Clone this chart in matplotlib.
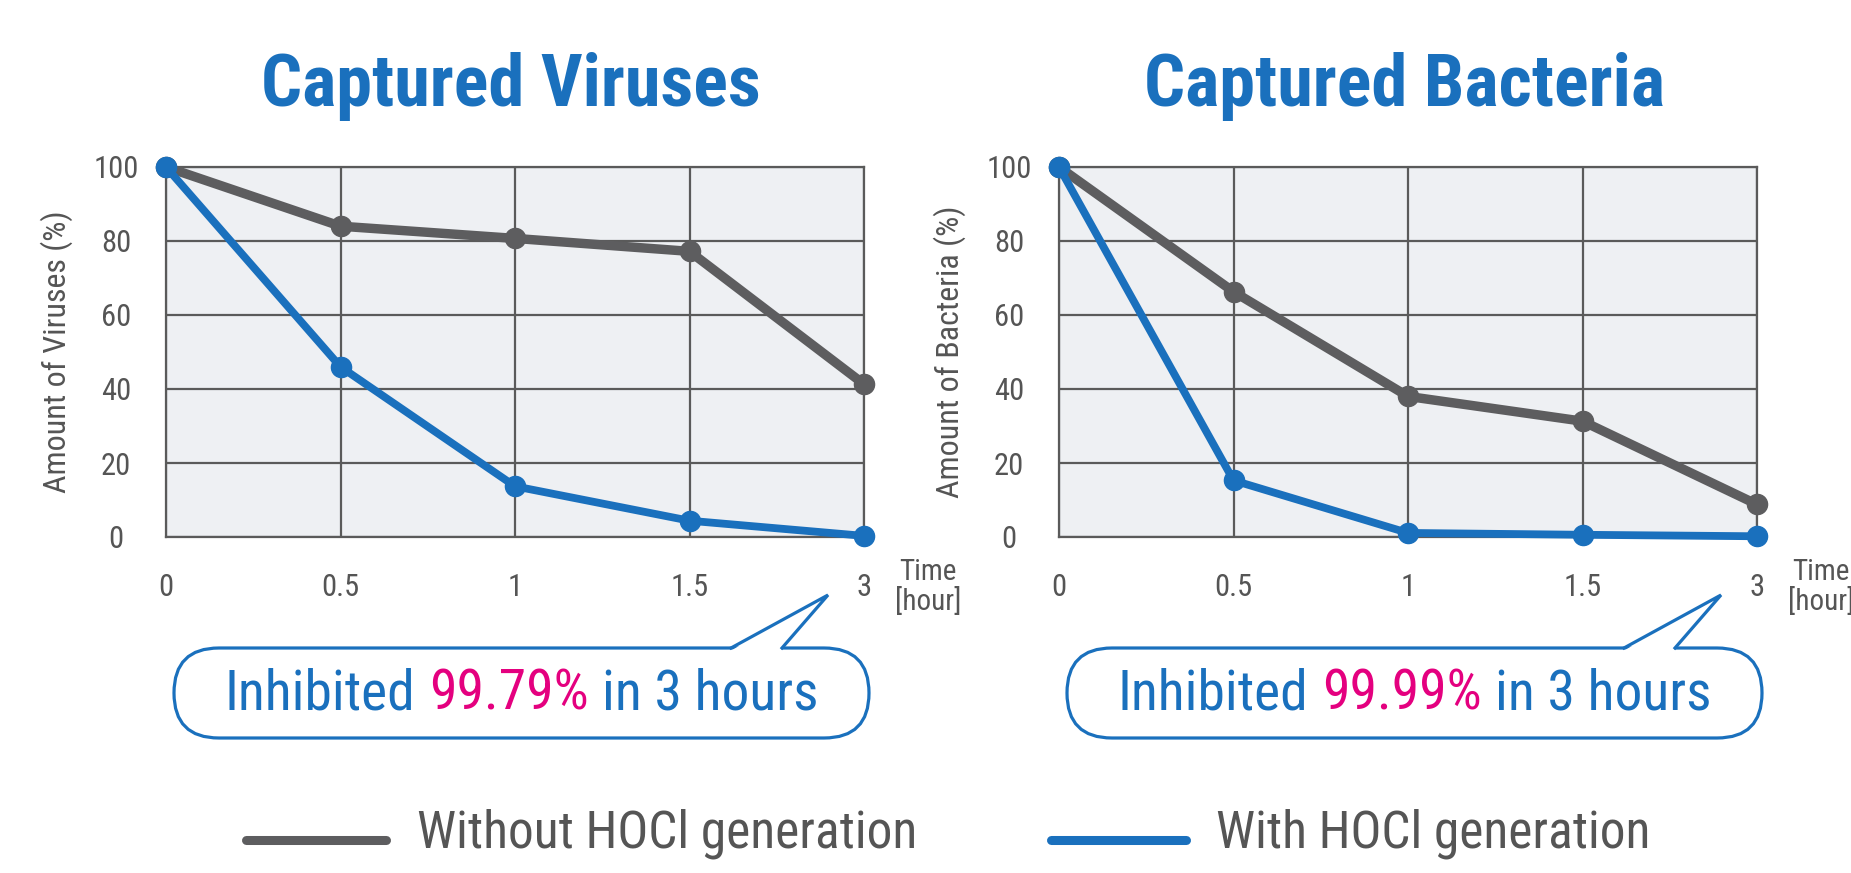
import numpy as np
import matplotlib.pyplot as plt
from matplotlib import font_manager
from matplotlib.patches import FancyBboxPatch, Polygon

# data
times = ['0', '0.5', '1', '1.5', '3']
virus_without = [100, 84, 80.7, 77.2, 41.3]
virus_with = [100, 46, 13.7, 4.4, 0.3]
bacteria_without = [100, 66.3, 38, 31.3, 8.8]
bacteria_with = [100, 15.3, 1.1, 0.6, 0.2]
titles = ['Captured Viruses', 'Captured Bacteria']
ylabels = ['Amount of Viruses (%)', 'Amount of Bacteria (%)']
inhibited = ['99.79%', '99.99%']
legend_labels = ['Without HOCl generation', 'With HOCl generation']

BLUE = '#1a70bd'
PINK = '#e4007f'
GRAY = '#5d5d5f'
GRID = '#5a5a5a'
TXT = '#555555'

names = {f.name for f in font_manager.fontManager.ttflist}
NARROW = next((n for n in ['Liberation Sans Narrow', 'Roboto Condensed',
                           'Open Sans Condensed', 'DejaVu Sans Condensed']
               if n in names), 'Liberation Sans')
plt.rcParams['font.family'] = [NARROW, 'DejaVu Sans']

W, H = 1851, 873
fig = plt.figure(figsize=(W / 100, H / 100), dpi=100)


def px_axes(x, y, w, h):
    return fig.add_axes([x / W, 1 - (y + h) / H, w / W, h / H])


# overlay in pixel coords for titles, bubbles and legend
ov = fig.add_axes([0, 0, 1, 1], zorder=10)
ov.set_xlim(0, W)
ov.set_ylim(H, 0)
ov.axis('off')

AX_W, AX_H, AX_Y = 698, 370, 167
panels = [(166, virus_without, virus_with), (1059, bacteria_without, bacteria_with)]

for i, (x0, without, with_) in enumerate(panels):
    ax = px_axes(x0, AX_Y, AX_W, AX_H)
    ax.set_facecolor('#eef0f3')
    xs = np.arange(len(times))
    ax.plot(xs, without, color=GRAY, lw=6.8, marker='o', ms=14.5, clip_on=False,
            zorder=3, solid_joinstyle='round')
    ax.plot(xs, with_, color=BLUE, lw=5.6, marker='o', ms=14.5, clip_on=False,
            zorder=4, solid_joinstyle='round')
    ax.set_xlim(0, len(times) - 1)
    ax.set_ylim(0, 100)
    ax.set_xticks(xs, times)
    ax.set_yticks(range(0, 101, 20))
    ax.grid(True, color=GRID, lw=1.6)
    ax.set_axisbelow(True)
    for s in ax.spines.values():
        s.set_color(GRID)
        s.set_linewidth(1.6)
    ax.tick_params(length=0, labelsize=22, labelcolor=TXT)
    ax.tick_params(axis='x', pad=26)
    ax.tick_params(axis='y', pad=36)
    for lbl in ax.get_yticklabels():
        lbl.set_ha('center')
    ax.set_ylabel(ylabels[i], fontsize=23, color=TXT)
    ax.yaxis.label.set_va('center')
    ax.yaxis.set_label_coords((57 - 166) / AX_W, 0.5)

    # time unit label
    ov.text(x0 + AX_W + 64, 587, 'Time\n[hour]', ha='center', va='center',
            fontsize=21, color=TXT, linespacing=1.05)

    # title
    ov.text(x0 + 345, 106, titles[i], ha='center', va='baseline', fontsize=52,
            fontweight='bold', color=BLUE)

    # speech bubble
    bx0, bx1, by0, by1 = x0 + 8, x0 + 703, 648, 738
    bh = by1 - by0
    ov.add_patch(FancyBboxPatch((bx0, by0), bx1 - bx0, bh,
                                boxstyle=f'round,pad=0,rounding_size={bh / 2}',
                                fc='white', ec=BLUE, lw=2.3, zorder=2))
    tail = [(x0 + 565, by0), (x0 + 662, 595), (x0 + 616, by0)]
    ov.add_patch(Polygon([(tail[0][0] + 1, by0 + 2), tail[1], (tail[2][0] - 1, by0 + 2)],
                         closed=True, fc='white', ec='none', zorder=3))
    ov.plot([p[0] for p in tail], [p[1] for p in tail], color=BLUE, lw=2.3,
            zorder=4, solid_joinstyle='miter')

    # multi-coloured bubble text, centred
    r = fig.canvas.get_renderer()
    parts = [('Inhibited', BLUE), (inhibited[i], PINK), ('in 3 hours', BLUE)]
    tx = [ov.text(0, (by0 + by1) / 2 + 1, s, color=c, fontsize=40, ha='left',
                  va='center', zorder=5) for s, c in parts]
    widths = [t.get_window_extent(r).width for t in tx]
    gap = 0.24 * 40 * 100 / 72
    x = (bx0 + bx1) / 2 - (sum(widths) + gap * (len(widths) - 1)) / 2
    for t, w in zip(tx, widths):
        t.set_x(x)
        x += w + gap

# legend
for (lx0, lx1, tx0), col, lab in zip([(246, 386, 417), (1051, 1186, 1216)],
                                      [GRAY, BLUE], legend_labels):
    ov.plot([lx0, lx1], [840, 840], color=col, lw=6.5, solid_capstyle='round')
    ov.text(tx0, 834, lab, color=TXT, fontsize=37, ha='left', va='center')

fig.savefig('out.png', dpi=100, facecolor='white')
